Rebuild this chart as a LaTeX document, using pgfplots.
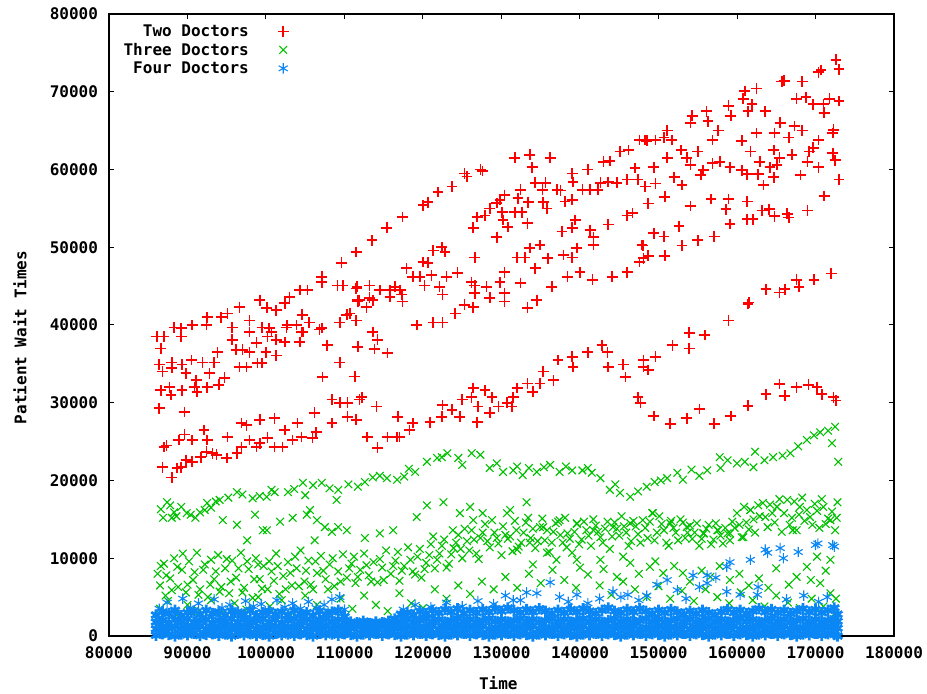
\documentclass[border=0pt]{standalone}
\usepackage{fontspec}
\setmonofont{DejaVu Sans Mono}
\usepackage{pgfplots}
\usepackage{pgfplotstable}
\pgfplotsset{compat=1.18}

\definecolor{gpred}{RGB}{255,0,0}
\definecolor{gpgreen}{RGB}{0,192,0}
\definecolor{gpblue}{RGB}{10,135,245}
\newcommand{\gpfont}{\ttfamily\bfseries\fontsize{8}{9}\selectfont}

% dense base of the four-doctor series: x and four wait values per row
\pgfplotstableread{
x a b c d
86000 100 900 1800 2700
86800 300 1100 2000 3100
87600 200 1000 1700 2900
88400 0 1200 2100 3300
89200 250 950 1900 2600
90000 150 1150 2200 3000
90800 350 1050 1800 3200
91600 50 1250 2000 2800
92400 200 900 2100 3300
93200 300 1100 1700 2900
94000 100 1000 2000 3100
94800 250 1200 1900 2700
95600 0 950 2200 3200
96400 350 1150 1800 3000
97200 150 1050 2100 2800
98000 300 1250 1900 3300
98800 100 900 2000 2600
99600 200 1100 2200 3000
100400 0 1000 1800 3200
101200 350 1200 2100 2800
102000 150 950 1700 3100
102800 250 1150 2000 2700
103600 100 1050 2200 3300
104400 300 1250 1900 2900
105200 200 900 2100 3000
106000 0 1100 1800 2600
106800 350 1000 2000 3200
107600 150 1200 2200 2800
108400 250 950 1900 3100
109200 100 1150 2100 3300
110000 300 1050 1800 2500
110800 200 1000 1500 1800
111600 0 1200 1400 1700
112400 250 900 1600 1900
113200 150 1100 1500 1600
114000 350 1000 1400 1800
114800 100 1200 1600 1700
115600 300 950 1500 1900
116400 200 1100 1700 2200
117200 0 1000 1900 2800
118000 250 1200 2100 3000
118800 150 950 1800 2700
119600 350 1150 2000 3200
120400 100 1050 2200 2900
121200 300 1250 1900 3300
122000 200 900 2100 3000
122800 0 1100 1800 3400
123600 250 1000 2000 3100
124400 150 1200 2200 3500
125200 350 950 1900 2900
126000 100 1150 2100 3300
126800 300 1050 1800 3000
127600 200 1250 2000 3400
128400 0 900 2200 3100
129200 250 1100 1900 3500
130000 150 1000 2100 3200
130800 350 1200 1800 3600
131600 100 950 2000 3300
132400 300 1150 2200 3000
133200 200 1050 1900 3400
134000 0 1250 2100 3100
134800 250 900 1800 3500
135600 150 1100 2000 3200
136400 350 1000 2200 2900
137200 100 1200 1900 3300
138000 300 950 2100 3000
138800 200 1150 1800 3400
139600 0 1050 2000 3100
140400 250 1250 2200 3500
141200 150 900 1900 3200
142000 350 1100 2100 2900
142800 100 1000 1800 3300
143600 300 1200 2000 3600
144400 200 950 2200 3200
145200 0 1150 1900 3000
146000 250 1050 2100 3400
146800 150 1250 1800 3100
147600 350 900 2000 3500
148400 100 1100 2200 3200
149200 300 1000 1900 2900
150000 200 1200 2100 3300
150800 0 950 1800 3000
151600 250 1150 2000 3400
152400 150 1050 2200 3100
153200 350 1250 1900 2800
154000 100 900 2100 3200
154800 300 1100 1800 2900
155600 200 1000 2000 3300
156400 0 1200 2200 3000
157200 250 950 1900 2700
158000 150 1150 2100 3100
158800 350 1050 1800 3400
159600 100 1250 2000 3000
160400 300 900 2200 3300
161200 200 1100 1900 2900
162000 0 1000 2100 3200
162800 250 1200 1800 3500
163600 150 950 2000 3100
164400 350 1150 2200 3400
165200 100 1050 1900 3000
166000 300 1250 2100 3300
166800 200 900 1800 2900
167600 0 1100 2000 3200
168400 250 1000 2200 3500
169200 150 1200 1900 3100
170000 350 950 2100 3400
170800 100 1150 1800 3000
171600 300 1050 2000 3300
172400 200 1250 2200 3600
172800 0 1000 1900 2800
}\bluebase

\begin{document}
\begin{tikzpicture}
\begin{axis}[
    scale only axis,
    width=392.5pt, height=311pt,
    xmin=80000, xmax=180000, ymin=0, ymax=80000,
    xtick={80000,90000,...,180000},
    ytick={0,10000,...,80000},
    scaled ticks=false,
    /pgf/number format/fixed,
    /pgf/number format/precision=0,
    /pgf/number format/1000 sep={},
    /pgf/number format/assume math mode=true,
    tick align=inside, tick pos=both, ticklabel pos=left,
    major tick length=2.5pt,
    tick style={black, line width=0.5pt},
    axis line style={line width=0.6pt},
    axis on top=true,
    clip=false,
    tick label style={font=\gpfont},
    xticklabel style={yshift=-2pt},
    yticklabel style={xshift=-2pt},
    xlabel={Time}, ylabel={Patient Wait Times},
    every axis x label/.style={at={(axis description cs:0.496,-0.0756)}, anchor=center, font=\gpfont},
    every axis y label/.style={at={(axis description cs:-0.1134,0.48)}, rotate=90, anchor=center, font=\gpfont},
    legend plot pos=right,
    legend cell align=right,
    legend style={draw=none, fill=none, font=\gpfont,
        at={(axis description cs:0.237,0.994)}, anchor=north east,
        column sep=13.5pt, row sep=0pt,
        nodes={inner sep=1pt, text height=6.25pt, text depth=1pt}},
]
% two doctors
\addplot[only marks, mark=+, mark size=2.7pt, gpred, line width=0.8pt, mark options={draw=gpred}] coordinates {
(86400,29300) (86800,21700) (87000,24300) (87300,24500) (88000,20400) (88700,21600) (89200,21700)
(89600,28800) (89800,22600) (90600,22400) (91700,23000) (92400,23700) (93200,23500) (93700,23300)
(95000,22900) (96300,23500) (96900,24300) (97900,25200) (98800,24300) (99200,24800) (100200,25500)
(101100,24300) (102100,24300) (103400,25200) (104500,25600) (105900,25500) (106400,26200)
(88900,25200) (89600,25900) (90600,25200) (92100,26500) (92500,25200) (95100,25600) (96900,27400)
(97500,27100) (99200,27800) (101100,28000) (102400,26500) (104000,27400) (106200,28700)
(108400,27400) (108400,30400) (109400,30000) (110400,30000) (111900,30400) (112200,30700)
(110400,28200) (111500,27800) (112900,25600) (114200,24200) (114100,29500) (115500,25600)
(116700,25600) (116800,28200) (117000,25600) (118300,26500) (118700,27400) (120900,27500)
(122400,28200) (122500,29700) (123700,29100) (124700,28200) (125000,30400) (126200,30700)
(126400,31900) (127000,29500) (126900,27500) (127900,31600) (128500,28700) (128800,30700)
(129600,29500) (130700,30000) (131300,29500) (131500,30700) (132000,31900) (133300,32500)
(134000,31400) (134900,32500) (135300,34000) (136600,32900) (137200,35500) (139000,35900)
(139100,34600) (141000,36500) (142800,37400) (143500,36500) (143600,34600) (145500,34900)
(145800,33300) (147400,30700) (147700,30000) (149400,28300) (151500,27300) (153600,28000)
(155200,29200) (157100,27300) (159200,28300) (161400,29600) (163700,31100) (165400,32400)
(166100,30900) (167600,32000) (169100,32300) (170200,32000) (170800,31100) (172300,30700)
(172600,30300)
(148100,35500) (148100,34600) (148700,34200) (149600,35900) (151800,37400) (153900,37000)
(153900,39000) (155900,38700) (158900,40600) (161400,42700) (161500,42900) (163700,44600)
(165400,44200) (166100,44600) (167600,45800) (167900,44900) (169800,45800) (172000,46600)
(86100,38500) (87000,38500) (86600,37000) (88300,39700) (89200,39600) (89200,38500) (90600,40000)
(92400,40000) (92500,41000) (94300,41000) (95100,41500) (96600,42300) (95700,39700) (97900,40600)
(97900,39100) (99200,43200) (100100,42200) (101300,41900) (102400,42800) (103000,43600)
(104300,44500) (105300,44500) (99500,39700) (100400,39600)
(86600,31600) (87700,32000) (87900,31000) (89300,31600) (90900,32000) (91200,31400) (92500,32000)
(94000,32300) (94700,33200) (92800,33800) (91100,32900) (89800,33800) (88000,34500) (86800,34000)
(86400,34900) (88000,35200) (89300,34900) (90500,35500) (91900,35200) (93400,35200) (93800,36500)
(96600,34600) (97500,34600) (98900,35100) (99500,35100) (100000,36500) (101300,36100)
(96200,36800) (97000,36800) (97900,36500) (95700,38100) (98800,37700) (100200,38500)
(100700,39100) (101300,38100) (102400,37800) (102600,39700) (103900,40000) (104500,39100)
(104300,37800) (104600,41300) (105500,40300) (106800,39400) (107800,37400) (109400,35200)
(109400,40300) (110300,41300) (111500,40600) (111700,37200) (111700,43200) (112800,42300)
(113600,43200) (113600,39100) (114200,38100) (115500,36400) (114500,44500) (115800,43600)
(116400,44900) (115400,52500) (113500,50900) (111500,49400) (109600,48000) (107100,46200)
(107100,45500) (109100,45100) (109800,45100) (111500,44700) (111900,43200) (113200,45100)
(102700,40000) (104700,39100) (107100,39600) (110700,41500) (111700,43000) (113200,43500)
(117100,44500) (111600,44900) (107200,33300) (111300,33400) (113800,36900)
(117400,53900) (120000,55400) (120600,55800) (121900,57100) (123700,57800) (125300,59500)
(125600,59100) (127300,60000) (127600,59800) (131700,61500) (133600,61900) (133900,60300)
(136200,61500) (126400,52500) (126900,53900) (127900,54100) (128500,55000) (129400,55700)
(129800,56100) (130400,56700) (129400,51300) (130100,54500) (130200,53500) (130800,52600)
(131700,54500) (132400,57400) (132100,56300) (132600,54500) (133300,53100) (133400,55800)
(134300,58300) (135200,57400) (135600,58300) (135300,55800) (135800,55000) (137100,57400)
(137500,57300) (139000,59500) (139100,58400) (139000,56100) (138100,55900) (140300,57400)
(141300,57400) (141000,60000) (142300,57400) (142600,58300) (143600,58400) (143000,61000)
(143800,61100) (144700,58300) (145100,62300) (146200,62500) (146000,58700) (147000,60200)
(147400,58700) (148300,63800)
(126600,48700) (130400,46800) (129800,45500) (130400,44100) (130400,43000) (128500,43500)
(128100,44900) (126600,44100) (126600,45100) (126200,45500) (132000,48700) (133000,48700)
(133600,49900) (134900,50300) (132400,45400) (134300,47300) (135900,48600) (136400,44900)
(134500,43200) (133300,42200) (137700,52000) (137900,49000) (139000,48700) (139000,52500)
(139400,53500) (139600,49900) (138400,46200) (140000,46800) (141300,52200) (141700,51300)
(141700,50300) (141600,45800) (143600,52900) (144100,46200) (146000,54100) (146700,54400)
(146000,46800) (147900,50300) (148100,48600) (117900,47300) (118700,46200) (120000,48100)
(120600,48000) (121300,49600) (122400,50000) (122800,49400) (121100,46400) (119600,46200)
(120200,45100) (122100,44900) (122500,43900) (123000,46200) (124400,46700) (124100,41500)
(125300,42600) (126400,42300) (119200,40000) (121300,40300) (122500,40300) (115800,44500)
(117300,43900) (117400,43000)
(172600,74100) (173000,72900) (170400,72500) (170700,72800) (168300,71300) (165700,71300)
(166000,71400) (162500,70400) (161000,70100) (160800,69100) (161900,68400) (161400,67500)
(163600,67500) (158900,68200) (159200,66900) (156100,67500) (156300,66200) (154300,66900)
(154100,66000) (167600,69100) (168800,69300) (169700,68400) (171000,68400) (171100,67300)
(171800,69100) (173000,68800) (165500,66000) (167300,65600) (168300,65000) (164800,64700)
(166600,64100) (170400,63800) (172200,64700) (172300,65100) (162500,64700) (160600,63700)
(157600,65000) (156900,63800) (161700,62300) (164700,62500) (167000,61900) (169200,62300)
(169700,62800) (172200,62100) (172500,61200) (173000,58700) (171100,56600) (170400,60300)
(169000,61000) (168100,59300) (165400,61500) (165100,60600) (164200,60300) (162900,61000)
(162700,59400) (164700,59000) (163400,58000) (160600,59900) (161300,59400) (159100,60300)
(157800,61000) (156900,60800) (155700,59900) (155400,59300) (154100,60600) (153600,61500)
(152900,62500) (155000,62300) (151100,61500) (149400,60300) (152000,59000) (153000,58000)
(150800,56500) (149600,58200) (148300,57800) (148700,55600) (147600,63800) (148500,63700)
(149600,63800) (150700,64100) (151100,65000) (151700,63800) (154100,55300) (156700,56200)
(158900,56200) (158600,54900) (161300,55900) (159100,53000) (161300,53600) (162000,53600)
(163200,54700) (164100,54900) (164800,54000) (166400,54300) (166600,53800) (169000,54700)
(152600,52700) (149400,51800) (150700,51400) (153000,50200) (155000,50900) (157100,51400)
(148000,50200) (148700,48900) (147600,48100) (150800,48900)
};
\addlegendentry{Two Doctors}
% three doctors
\addplot[only marks, mark=x, mark size=2.7pt, gpgreen, line width=0.55pt, mark options={draw=gpgreen}] coordinates {
(87400,17200) (86900,15200) (88000,15200) (88600,15400) (89900,15800) (91000,15200) (92200,16200)
(92500,17100) (94100,17500) (94500,14900) (96300,18500) (96300,14300) (97600,12300) (98300,17700)
(98600,15600) (99600,13600) (100100,17900) (101100,18500) (101800,14700) (102800,18500)
(104700,19700) (105000,18100) (105600,16200) (107100,19700) (106500,14900) (107500,14000)
(109200,18800) (109000,17500) (109200,14000) (111700,19200) (112600,12600) (113600,20400)
(115400,20300) (116700,20100) (119000,21100) (120500,22400) (121800,22900) (123100,23500)
(124500,22900) (125000,22000) (127300,23300) (128500,21600) (130200,21100) (131500,21300)
(132000,21800) (132700,20700) (134500,21100) (136200,22000) (137400,21100) (139000,21300)
(140300,21300) (141500,21000) (142600,20300) (143800,18800) (145100,18400) (146400,17900)
(148500,19200) (149500,19800) (151100,20300) (152400,21000) (153100,20100) (156200,21300)
(157800,23000) (157900,21600) (160000,22200) (162300,23700) (162100,21700) (164600,23000)
(166800,23500) (168900,25200) (170600,26200) (172500,26900) (172100,24800) (172900,22400)
(86600,16300) (87800,16800) (88300,15900) (89200,16600) (90400,15600) (91600,15900) (93000,16500)
(93600,17300) (95200,17800) (97000,18200) (99200,18000) (100700,18800) (103600,18900)
(106000,19400) (108100,19000) (110500,19500) (112600,19800) (114500,20600) (117600,20500)
(118200,21500) (122400,23000) (126200,23500) (129400,22200) (133500,21600) (135400,21700)
(138200,21800) (141000,21600) (144500,19500) (147400,18600) (150300,20000) (154200,21400)
(155200,20600) (158800,22600) (161000,22400) (163500,22600) (165800,23200) (167800,24400)
(169800,25800) (171600,26400)
(86200,8000) (86500,6500) (87000,9300) (87200,5200) (87800,7400) (88300,10000) (88800,6300)
(89300,8500) (89800,5600) (90200,9600) (90700,7200) (91200,10700) (91600,6000) (92000,8500)
(92600,5000) (93000,9800) (93400,7300) (93900,10400) (94300,6300) (94800,8700) (95300,5500)
(95700,9700) (96200,7500) (96800,10700) (97200,6200) (97800,8600) (98300,4900) (98700,10000)
(99200,7300) (99700,9000) (100200,6000) (100700,8300) (101300,10600) (101700,5400) (102200,7700)
(102800,9500) (103300,6500) (103900,8700) (104400,11000) (104900,7000) (105400,9700)
(106000,6000) (106500,8100) (107000,10300) (107600,7300) (108100,9200) (108700,6400)
(109200,8300) (109800,10500) (110300,7500) (110900,9300) (111400,6800) (112000,8500)
(112500,10600) (113100,7800) (113700,9500) (114200,6900) (114800,8800) (115300,11000)
(115900,8000) (116500,9700) (117000,7100) (117600,9000) (118100,11400) (118700,8300)
(119300,10200) (119800,7500) (120400,9400) (121000,11800) (121500,8700) (122100,10600)
(122700,12400) (123300,9300) (123900,11300) (124500,13000) (125000,10000) (125600,12200)
(126200,13600) (126800,10600) (127300,12600) (127900,14400) (128500,11400) (129100,13300)
(129600,11900) (130200,14100) (130800,12500) (131400,10900) (131900,13600) (132500,12000)
(133100,14600) (133700,12600) (134300,11300) (134900,14000) (135500,12300) (136100,10800)
(136600,13400) (137200,14700) (137800,12000) (138400,13200) (139000,10700) (139600,14400)
(140200,12400) (140800,13600) (141400,11600) (142000,14200) (142600,12700) (143200,13800)
(143800,11200) (144400,14600) (145000,12900) (145600,14100) (146200,11600) (146800,14800)
(147400,13100) (148000,14900) (148600,12600) (149200,15800) (149800,13300) (150400,14400)
(151000,12000) (151600,14800) (152200,13300) (152800,15000) (153400,12600) (154000,14200)
(154600,13300) (155200,11600) (155800,13200) (156400,14300) (157000,12400) (157600,13600)
(158200,11900) (158800,13200) (159400,14700) (160000,15800) (160600,12700) (161200,14600)
(161700,16200) (162300,13300) (162900,15400) (163300,17100) (163900,14000) (164500,15800)
(165100,16600) (165700,13400) (166400,17500) (167000,15200) (167600,13600) (168000,16600)
(168600,14800) (169300,15300) (169900,17000) (170500,13900) (171000,16600) (171600,15100)
(171900,14900) (172500,13600) (172800,17200)
(86600,9000) (87300,7800) (88000,5900) (88700,8900) (89400,10600) (90000,6600) (90900,8200)
(91400,5300) (92200,9200) (92900,6600) (93600,8300) (94100,5700) (95000,9900) (95500,7000)
(96500,8700) (97000,5600) (97600,9600) (98500,7300) (99000,9200) (99500,6100) (100400,9600)
(101000,7100) (101500,9000) (102500,6000) (103100,8100) (103700,10200) (104200,6400)
(105100,8400) (105700,6600) (106300,9600) (107300,8400) (107900,6000) (108500,10000)
(109500,7000) (110600,8700) (111200,10200) (111700,7600) (112800,9100) (113400,7000)
(114500,9900) (115000,7200) (116200,9000) (116800,10800) (117300,8400) (118400,9800)
(119000,7900) (119600,11200) (120200,8600) (120800,10400) (121300,12800) (121800,9800)
(122400,11600) (123000,8800) (123600,10500) (124200,12000) (124800,11200) (125300,13800)
(125900,11000) (126500,12400) (127100,9900) (127600,13300) (128200,12200) (128800,14900)
(129400,12600) (130000,10400) (130500,13000)
(131100,12800) (131700,14800) (132200,11500) (132800,13300) (133400,15200) (134000,13800)
(134600,12200) (135200,15100) (135800,13600) (136400,12000) (136900,14500) (137500,13000)
(138100,15200) (138700,12500) (139300,13400) (139900,11800) (140500,14700) (141100,12900)
(141700,15000) (142300,13400) (142900,12000) (143500,14700) (144100,12800) (144700,13800)
(145300,15400) (145900,13300) (146500,12200) (147100,14100) (147700,12000) (148300,13900)
(148900,14700) (149500,12300) (150100,15400) (150700,13600) (151300,11600) (151900,13900)
(152500,12300) (153100,14600) (153700,13300) (154300,12500) (154900,14500) (155500,12500)
(156100,13800) (156700,11800) (157300,14500) (157900,12900) (158500,13900) (159100,12300)
(159700,13900) (160300,14300) (160900,16600) (161500,13700) (162100,15000) (162700,16800)
(163600,15300) (164200,16900) (164800,14600) (165400,17600) (166000,15800) (166700,14300)
(167300,17300) (167900,15600) (168300,17800) (168900,16200) (169600,14300) (170200,16100)
(170800,17600) (171300,14400) (172100,16000) (172700,15200)
(100100,13600) (103400,15200) (105200,15600) (106200,12300) (108400,13400) (110300,13600)
(114500,13200) (116200,13600) (119200,15300) (120500,16800) (122600,17200) (123800,13600)
(124700,15800) (126400,14900) (126000,16600) (127600,15800) (130700,15800) (131100,16200)
(133200,17200) (135300,14000) (137400,14900) (139600,14500) (141700,13600) (144200,14000)
(146400,14500) (149300,15800) (151500,14500) (153600,14000) (155700,13200) (157500,13600)
(159100,13200) (160800,12700) (161700,16200) (165100,16600) (167100,13600)
(132000,11100) (133600,12000) (135800,10700) (138300,11400) (139600,9800) (142600,9800)
(144700,7600) (146400,9400) (148900,8900) (150600,8100) (153100,8100) (156600,7600)
(159100,7200) (161500,6500) (164000,6200) (167600,7600) (168900,8900) (170200,10200)
(171900,9800) (170600,6800) (171900,5500) (172600,4800)
(134000,9200) (137000,9800) (140000,8800) (143000,8600) (145500,10200) (147500,8000)
(149600,9600) (152000,9000) (154000,7000) (155500,8400) (157800,9000) (160300,8000)
(162800,7400) (165000,8700) (166600,6600) (169400,7200) (171300,8400)
(86500,3500) (87500,4500) (88500,2800) (90000,4000) (91500,3200) (93000,4600) (94500,3000)
(96000,4200) (97500,3400) (99000,5000) (100500,3800) (102000,4600) (103500,3000) (105000,5200)
(106500,4000) (108000,3000) (109500,4800) (111000,3500) (112500,5200) (114000,4000)
(115500,3200) (117000,5500) (118500,4200) (120000,3600) (121500,6000) (123000,4800)
(124500,6500) (126000,5400) (127500,7000) (129000,6000) (130500,7600) (132000,6200)
(133500,8000) (135000,6800) (136500,8500) (138000,7200) (139500,6200) (141000,7900)
(142500,6500) (144000,5300) (145500,7000) (147000,6000) (148500,5000) (150000,6400)
(151500,4800) (153000,5800) (154500,4500) (156000,6000) (157500,5000) (159000,4200)
(160500,5600) (162000,4600) (163500,3800) (165000,5200) (166500,4300) (168000,3600)
(169500,4800) (171000,3800) (172500,3000)
};
\addlegendentry{Three Doctors}
% four doctors
\addplot[only marks, mark=asterisk, mark size=2.6pt, gpblue, line width=0.55pt, mark options={draw=gpblue}] coordinates {
(86400,3500) (87400,4300) (88400,3000) (89400,4800) (90400,3600) (91400,4200) (92400,3300)
(93400,4700) (94400,3600) (95400,4000) (96400,3200) (97400,4500) (98400,3800) (99400,4100)
(100400,3300) (101400,4600) (102400,3700) (103400,4200) (104400,3500) (105400,4400)
(106400,3600) (107400,4000) (108400,4700) (109400,5000) (110000,3400) (117500,3400)
(119000,4000) (121000,3700) (123000,4300) (125000,3800) (127000,4500) (129000,4100)
(130500,5200) (131500,4600) (132400,4600) (133200,5600) (134500,5500) (136200,6900)
(137400,5000) (138500,4400) (139600,5300) (141000,4200) (142500,4800) (144200,5700)
(145200,5000) (146100,5300) (147500,4600) (148500,5200) (149800,6600) (151100,7200)
(152400,5900) (153500,4800) (154400,7800) (155200,6300) (156200,7800) (156200,6800)
(157300,7500) (158700,8900) (158700,5700) (159100,9500) (160400,5300) (161700,9800)
(162600,5300) (162700,6300) (163600,11100) (163900,10700) (165500,11300) (165900,10000)
(166300,4700) (167800,10800) (168500,5200) (170000,11700) (170300,11900) (170400,4400)
(172200,11700) (172400,11500) (171500,5000)
};
\addlegendentry{Four Doctors}
\addplot[only marks, mark=asterisk, mark size=2.8pt, gpblue, line width=1.4pt, mark options={draw=gpblue}, forget plot] table[x=x, y=a] {\bluebase};
\addplot[only marks, mark=asterisk, mark size=2.8pt, gpblue, line width=1.4pt, mark options={draw=gpblue}, forget plot] table[x=x, y=b] {\bluebase};
\addplot[only marks, mark=asterisk, mark size=2.8pt, gpblue, line width=1.4pt, mark options={draw=gpblue}, forget plot] table[x=x, y=c] {\bluebase};
\addplot[only marks, mark=asterisk, mark size=2.8pt, gpblue, line width=1.4pt, mark options={draw=gpblue}, forget plot] table[x=x, y=d] {\bluebase};
\end{axis}
\pgfresetboundingbox
\path[use as bounding box] (-54.5pt,-29pt) rectangle (409pt,318pt);
\end{tikzpicture}
\end{document}
